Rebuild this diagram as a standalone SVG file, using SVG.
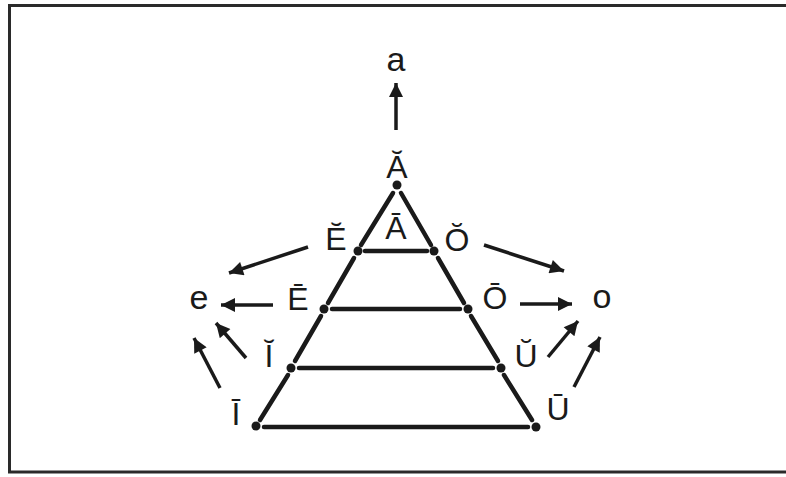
<svg xmlns="http://www.w3.org/2000/svg" width="786" height="477" viewBox="0 0 786 477">
<defs>
<marker id="ah" viewBox="0 0 10 10" refX="10" refY="5" markerWidth="4.4" markerHeight="4" orient="auto" markerUnits="strokeWidth">
<path d="M0,0 L10,5 L0,10 z" fill="#1a1a1a"/>
</marker>
</defs>
<style>
.lbl{font-family:"Liberation Sans",Arial,sans-serif;font-size:32px;fill:#1a1a1a;text-anchor:middle}
.low{font-size:34px}
.edge{stroke:#1a1a1a;stroke-width:4.5;stroke-linecap:round;fill:none}
.arr{stroke:#1a1a1a;stroke-width:3.5;fill:none;marker-end:url(#ah)}
.dot{fill:#1a1a1a}
</style>
<rect width="786" height="477" fill="#fff"/>
<path d="M800,5.5 H9.5 V472 H800" fill="none" stroke="#2a2a2a" stroke-width="3"/>
<g id="connectors">
<line class="edge" x1="393" y1="193" x2="361" y2="245"/>
<line class="edge" x1="354" y1="258" x2="328" y2="303"/>
<line class="edge" x1="321" y1="316" x2="295" y2="361"/>
<line class="edge" x1="288" y1="375" x2="260" y2="420"/>
<line class="edge" x1="401" y1="193" x2="431" y2="245"/>
<line class="edge" x1="438" y1="258" x2="464" y2="303"/>
<line class="edge" x1="471" y1="316" x2="498" y2="361"/>
<line class="edge" x1="504" y1="375" x2="532" y2="420"/>
<line class="edge" x1="365" y1="251" x2="427" y2="251"/>
<line class="edge" x1="332" y1="309" x2="460" y2="309"/>
<line class="edge" x1="299" y1="368" x2="493" y2="368"/>
<line class="edge" x1="264" y1="427" x2="528" y2="427"/>
<line class="arr" x1="396" y1="130" x2="396" y2="83"/>
<line class="arr" x1="308" y1="247" x2="229" y2="273"/>
<line class="arr" x1="273" y1="305" x2="221" y2="305"/>
<line class="arr" x1="484" y1="245" x2="564" y2="271"/>
<line class="arr" x1="520" y1="304" x2="572" y2="304"/>
<line class="arr" x1="246" y1="358" x2="216" y2="323"/>
<line class="arr" x1="220" y1="388" x2="194" y2="338"/>
<line class="arr" x1="548" y1="357" x2="578" y2="321"/>
<line class="arr" x1="574" y1="387" x2="600" y2="337"/>
</g>
<g id="n-a"><text class="lbl low" x="396" y="71">a</text></g>
<g id="n-A-breve"><circle class="dot" cx="397" cy="185" r="4.5"/><text class="lbl" x="397" y="178">Ă</text></g>
<g id="n-A-macron"><text class="lbl" x="396" y="239">Ā</text></g>
<g id="n-E-breve"><circle class="dot" cx="358" cy="251" r="4.5"/><text class="lbl" x="336" y="250">Ĕ</text></g>
<g id="n-O-breve"><circle class="dot" cx="434" cy="251" r="4.5"/><text class="lbl" x="457" y="251">Ŏ</text></g>
<g id="n-E-macron"><circle class="dot" cx="324" cy="309" r="4.5"/><text class="lbl" x="298" y="310">Ē</text></g>
<g id="n-O-macron"><circle class="dot" cx="468" cy="309" r="4.5"/><text class="lbl" x="495" y="309">Ō</text></g>
<g id="n-I-breve"><circle class="dot" cx="291" cy="368" r="4.5"/><text class="lbl" x="269" y="367">Ĭ</text></g>
<g id="n-U-breve"><circle class="dot" cx="501" cy="368" r="4.5"/><text class="lbl" x="526" y="367">Ŭ</text></g>
<g id="n-I-macron"><circle class="dot" cx="256" cy="426" r="4.5"/><text class="lbl" x="236" y="425">Ī</text></g>
<g id="n-U-macron"><circle class="dot" cx="536" cy="427" r="4.5"/><text class="lbl" x="558" y="420">Ū</text></g>
<g id="n-e"><text class="lbl low" x="199" y="309">e</text></g>
<g id="n-o"><text class="lbl low" x="602" y="308">o</text></g>
</svg>
